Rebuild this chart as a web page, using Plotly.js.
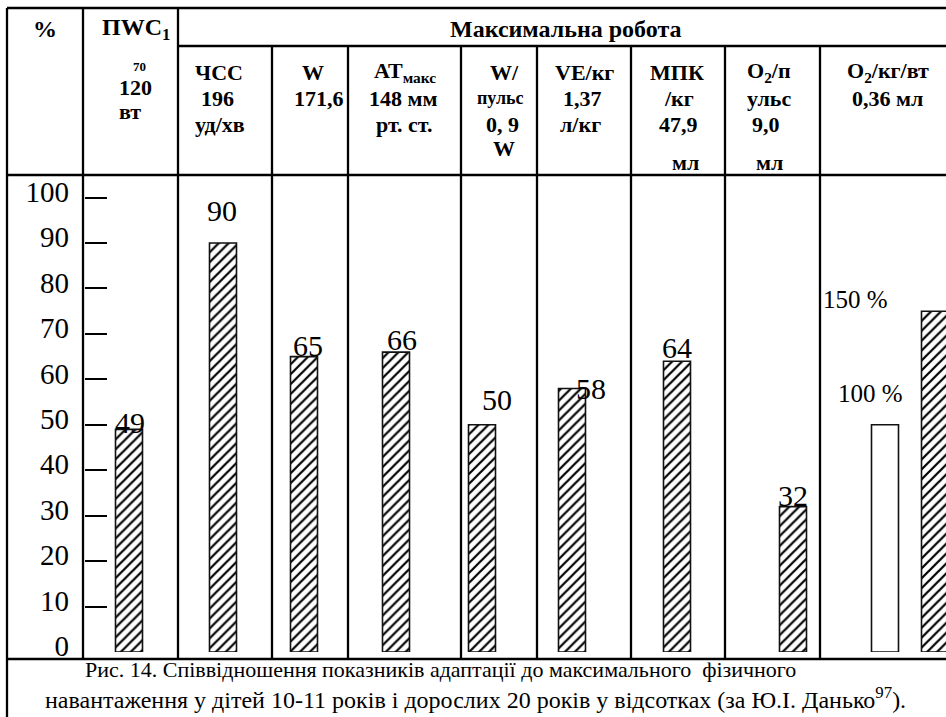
<!DOCTYPE html>
<html><head><meta charset="utf-8">
<script src="https://cdn.plot.ly/plotly-3.0.1.min.js"></script>
<style>html,body{margin:0;padding:0;background:#fff}</style>
</head><body><div id="chart" style="width:946px;height:717px"></div>
<script>
// ---------------- data ----------------
const indicators = ['ПWC170', 'ЧСС', 'W', 'АТмакс', 'W/пульс', 'VE/кг', 'МПК/кг', 'O2/пульс'];
const childPercent = [49, 90, 65, 66, 50, 58, 64, 32];
const o2Groups = ['100 %', '150 %'];
const o2Percent = [100, 150];
const yTickValues = [0, 10, 20, 30, 40, 50, 60, 70, 80, 90, 100];
const yDashValues = [10, 20, 30, 40, 50, 60, 70, 80, 90, 100];
const topHeaders = ['%', 'ПWC<sub>1</sub>', 'Максимальна робота'];
const columnHeaders = [
  ['70', '120', 'вт'],
  ['ЧСС', '196', 'уд/хв'],
  ['W', '171,6'],
  ['АТ<sub>макс</sub>', '148 мм', 'рт. ст.'],
  ['W/', 'пульс', '0, 9', 'W'],
  ['VE/кг', '1,37', 'л/кг'],
  ['МПК', '/кг', '47,9', 'мл'],
  ['O<sub>2</sub>/п', 'ульс', '9,0', 'мл'],
  ['O<sub>2</sub>/кг/вт', '0,36 мл']
];
const captionLines = [
  'Рис. 14. Співвідношення показників адаптації до максимального  фізичного',
  'навантаження у дітей 10-11 років і дорослих 20 років у відсотках (за Ю.І. Данько<sup>97</sup>).'
];

// ---------------- layout geometry (pixels) ----------------
const W = 946, H = 717;
const X = px => px / W;
const Y = py => 1 - py / H;
const FONT = 'Liberation Serif';
const colBorders = [83, 178, 272, 348, 461, 537, 631, 725, 820, 946];
const barCenters = [129, 223, 304, 396, 482, 572, 677, 793];
const lastCenters = [885, 935];
const barPx = 27;
const plotTop = 175, plotBottom = 652;
const pxPerUnit = 4.544;
const yMax = (plotBottom - plotTop) / pxPerUnit;
const yDomain = [Y(plotBottom), Y(plotTop)];

const hatch = {shape: '/', fgcolor: '#000', bgcolor: '#fff', size: 7, solidity: 0.32};
const traces = [];
const layout = {
  width: W, height: H,
  margin: {l: 0, r: 0, t: 0, b: 0},
  paper_bgcolor: '#fff', plot_bgcolor: 'rgba(0,0,0,0)',
  showlegend: false, bargap: 0,
  font: {family: FONT, color: '#000'},
  shapes: [], annotations: []
};

indicators.forEach((name, i) => {
  const b0 = colBorders[i], b1 = colBorders[i + 1], w = b1 - b0;
  const f = (barCenters[i] - b0) / w;
  const ax = 'xaxis' + (i === 0 ? '' : (i + 1));
  const ref = 'x' + (i === 0 ? '' : (i + 1));
  layout[ax] = {domain: [X(b0), X(b1)], range: [-f, 1 - f], type: 'category',
    visible: false, anchor: 'y', fixedrange: true};
  traces.push({type: 'bar', x: [name], y: [childPercent[i]], xaxis: ref, yaxis: 'y',
    width: [barPx / w], hoverinfo: 'skip',
    marker: {color: '#fff', pattern: hatch, line: {color: '#111', width: 1.6}}});
});

// last column: adults O2/kg/W, own scale (100 % drawn at half of 100 units)
{
  const b0 = colBorders[8], b1 = colBorders[9], w = b1 - b0;
  const unit = lastCenters[1] - lastCenters[0];
  const start = -(lastCenters[0] - b0) / unit;
  layout.xaxis9 = {domain: [X(b0), X(b1)], range: [start, start + w / unit], type: 'category',
    visible: false, anchor: 'y2', fixedrange: true};
  layout.yaxis2 = {domain: yDomain, range: [0, 2 * yMax], overlaying: 'y', visible: false,
    anchor: 'x9', fixedrange: true};
  traces.push({type: 'bar', x: o2Groups, y: o2Percent, xaxis: 'x9', yaxis: 'y2',
    width: [barPx / unit, barPx / unit], hoverinfo: 'skip',
    marker: {color: '#fff', pattern: {shape: ['', '/'], fgcolor: '#000', bgcolor: '#fff', size: 7, solidity: 0.32},
      line: {color: '#111', width: 1.6}}});
}

layout.yaxis = {domain: yDomain, range: [0, yMax], anchor: 'free', position: X(83),
  tickvals: yTickValues, ticktext: yTickValues.map(String), ticks: '', showline: false,
  showgrid: false, zeroline: false, automargin: false, ticklabelstandoff: 14, ticklabelshift: -6,
  tickfont: {family: FONT, size: 29, color: '#000'}, fixedrange: true};
layout.yaxis3 = {domain: yDomain, range: [0, yMax], overlaying: 'y', anchor: 'free', position: X(84),
  tickvals: yDashValues, ticks: 'inside', ticklen: 22, tickwidth: 2, tickcolor: '#000',
  showticklabels: false, showline: false, showgrid: false, zeroline: false, automargin: false, fixedrange: true};
traces.push({type: 'scatter', x: [], y: [], yaxis: 'y3', xaxis: 'x', hoverinfo: 'skip'});

// value labels
const labelShift = [[1, 7], [-1, 33], [4, 11], [6, 13], [15, 25], [19, 0], [0, 14], [0, 11]];
indicators.forEach((name, i) => {
  const ref = 'x' + (i === 0 ? '' : (i + 1));
  layout.annotations.push({xref: ref, yref: 'y', x: name, y: childPercent[i],
    text: String(childPercent[i]), showarrow: false, xanchor: 'center', yanchor: 'middle',
    xshift: labelShift[i][0], yshift: labelShift[i][1],
    font: {family: FONT, size: 30, color: '#000'}});
});
const lastShift = [[-15, 31], [-80, 12]];
o2Groups.forEach((g, j) => {
  layout.annotations.push({xref: 'x9', yref: 'y2', x: g, y: o2Percent[j],
    text: o2Percent[j] + ' %', showarrow: false, xanchor: 'center', yanchor: 'middle',
    xshift: lastShift[j][0], yshift: lastShift[j][1],
    font: {family: FONT, size: 25, color: '#000'}});
});

// table lines
const LINE = {color: '#000', width: 2.3};
const vLines = [[7, 8, 717], [83, 8, 659], [178, 8, 659], [272, 46, 659], [348, 46, 659],
  [461, 46, 659], [537, 46, 659], [631, 46, 659], [725, 46, 659], [820, 46, 659]];
const hLines = [[8, 7, 946], [46, 178, 946], [175, 7, 946], [659, 7, 946]];
vLines.forEach(([x, y0, y1]) => layout.shapes.push({type: 'line', xref: 'paper', yref: 'paper',
  x0: X(x), x1: X(x), y0: Y(y0), y1: Y(y1), line: LINE}));
hLines.forEach(([y, x0, x1]) => layout.shapes.push({type: 'line', xref: 'paper', yref: 'paper',
  x0: X(x0), x1: X(x1), y0: Y(y), y1: Y(y), line: LINE}));

// header text
function txt(text, x, y, size, bold) {
  layout.annotations.push({xref: 'paper', yref: 'paper', x: X(x), y: Y(y),
    text: bold ? '<b>' + text + '</b>' : text, showarrow: false, xanchor: 'center', yanchor: 'middle',
    font: {family: FONT, size: size, color: '#000'}});
}
const topX = [45, 136, 566];
topHeaders.forEach((t, i) => txt(t, topX[i], 29, 24, true));
const headX = [[139, 135, 130], [219, 217, 220], [313, 319], [405, 403, 404], [504, 500, 502, 504],
  [584, 582, 580], [677, 679, 678, 685], [769, 769, 766, 769], [888, 887]];
const rowY = [72, 98, 124, 148];
columnHeaders.forEach((lines, c) => {
  lines.forEach((t, r) => {
    let y = rowY[r], size = 22;
    if (c === 0) { y = [67, 88, 112][r]; size = r === 0 ? 13 : 22; }
    if (c === 4 && r === 1) size = 18;
    if ((c === 6 || c === 7) && r === 3) y = 162;
    txt(t, headX[c][r], y, size, true);
  });
});
txt(captionLines[0], 440, 669, 22, false);
txt(captionLines[1], 475, 698, 24, false);

Plotly.newPlot('chart', traces, layout, {staticPlot: true, displayModeBar: false});
</script>
</body></html>
